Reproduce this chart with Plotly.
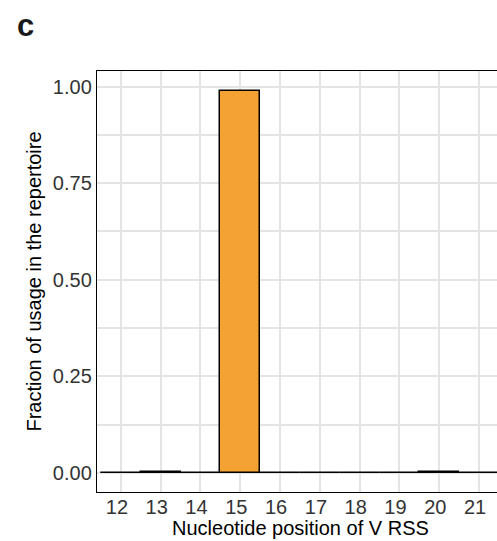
import plotly.graph_objects as go

positions = [12, 13, 14, 15, 16, 17, 18, 19, 20, 21]
fractions = [0.0003, 0.0025, 0.0003, 0.99, 0.0003, 0.0003, 0.0003, 0.0003, 0.002, 0.0003]
tick_vals_y = [0.0, 0.25, 0.5, 0.75, 1.0]
tick_text_y = ["0.00", "0.25", "0.50", "0.75", "1.00"]
x_title = "Nucleotide position of V RSS"
y_title = "Fraction of usage in the repertoire"

FONT = "Liberation Sans, Arial, Helvetica, sans-serif"
GRID = "#E4E4E4"

fig = go.Figure(
    go.Bar(
        x=positions,
        y=fractions,
        width=1.0,
        marker=dict(color="#F4A234", line=dict(color="black", width=1.5)),
        showlegend=False,
    )
)

fig.update_layout(
    width=497,
    height=541,
    margin=dict(l=97, r=0, t=71, b=49),
    plot_bgcolor="white",
    paper_bgcolor="white",
    font=dict(family=FONT, size=20, color="black"),
    xaxis=dict(
        range=[11.4, 21.45],
        tickvals=positions,
        ticktext=[str(p) for p in positions],
        showgrid=True,
        gridcolor=GRID,
        gridwidth=2,
        showline=True,
        linecolor="black",
        linewidth=1.4,
        mirror=True,
        ticks="",
        zeroline=False,
        ticklabelstandoff=-3,
        ticklabelshift=-4,
        tickfont=dict(size=20, color="#333333"),
    ),
    yaxis=dict(
        range=[-0.0495, 1.0405],
        tickvals=tick_vals_y,
        ticktext=tick_text_y,
        showgrid=True,
        gridcolor=GRID,
        gridwidth=2,
        minor=dict(tickvals=[0.125, 0.375, 0.625, 0.875], showgrid=True,
                   gridcolor=GRID, gridwidth=2, ticks=""),
        showline=True,
        linecolor="black",
        linewidth=1.4,
        mirror=False,
        ticks="",
        zeroline=False,
        tickfont=dict(size=20, color="#333333"),
        title=dict(text=y_title, standoff=5, font=dict(size=20)),
    ),
    bargap=0,
)

# x-axis title placed precisely below tick labels
fig.add_annotation(
    text=x_title, xref="paper", yref="paper",
    x=(300 - 97) / 400.0, y=-(528 - 492) / 421.0,
    xanchor="center", yanchor="middle", showarrow=False,
    font=dict(family=FONT, size=20, color="black"),
)

fig.add_annotation(
    text="<b>c</b>", xref="paper", yref="paper",
    x=-0.178, y=1.108, xanchor="center", yanchor="middle",
    showarrow=False, font=dict(family=FONT, size=31, color="#1a1a1a"),
)

fig.write_html("out.html", config={"displayModeBar": False},
               post_script="document.body.style.margin='0';")
